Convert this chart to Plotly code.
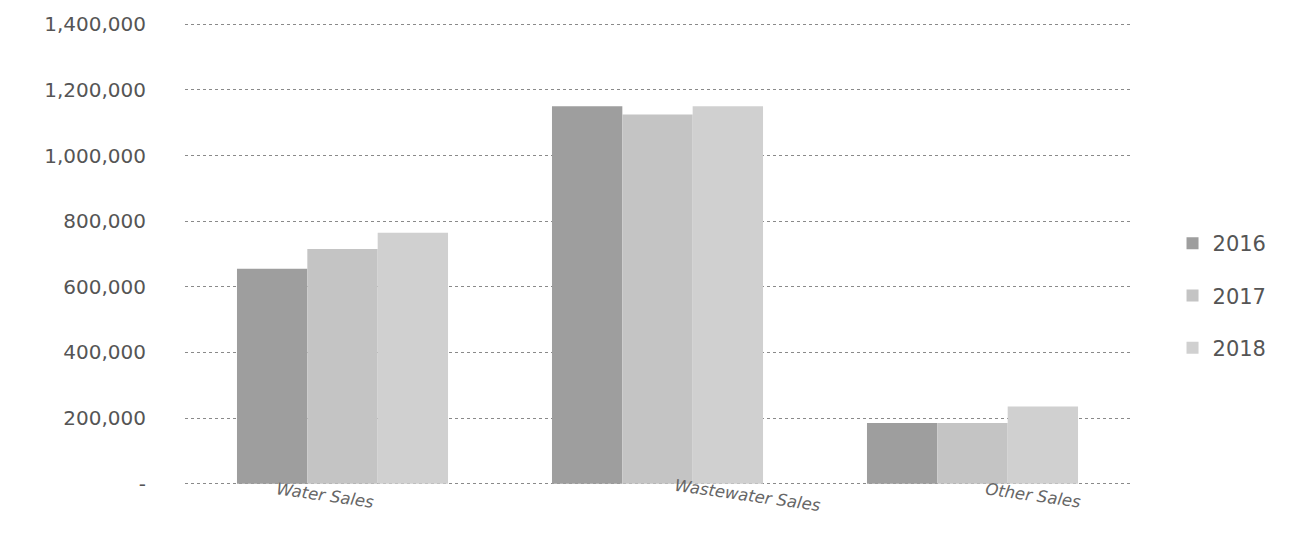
import plotly.graph_objects as go

# Sales by category and year
categories = ["Water Sales", "Wastewater Sales", "Other Sales"]
years = ["2016", "2017", "2018"]
sales_2016 = [655000, 1150000, 185000]
sales_2017 = [715000, 1125000, 185000]
sales_2018 = [765000, 1150000, 235000]
series_values = [sales_2016, sales_2017, sales_2018]

y_tick_values = [0, 200000, 400000, 600000, 800000, 1000000, 1200000, 1400000]
y_tick_labels = ["-", "200,000", "400,000", "600,000", "800,000",
                 "1,000,000", "1,200,000", "1,400,000"]

bar_colors = ["#9e9e9e", "#c4c4c4", "#d0d0d0"]
label_shifts = [-18, 90, 60]
font_family = "'DejaVu Sans', sans-serif"

fig = go.Figure()
for year, values, color in zip(years, series_values, bar_colors):
    fig.add_trace(go.Bar(
        name=year,
        legendgroup=year,
        x=categories,
        y=values,
        marker=dict(color=color, line=dict(width=0)),
    ))

# Italic, slightly tilted category labels under the groups
for cat, shift in zip(categories, label_shifts):
    fig.add_annotation(
        x=cat, y=0, xref="x", yref="y",
        yshift=-12, xshift=shift,
        text=f"<i>{cat}</i>", showarrow=False,
        textangle=8,
        font=dict(family=font_family, size=16.5, color="#666666"),
    )

fig.update_layout(
    width=1292, height=550,
    margin=dict(l=185, r=162, t=17, b=65),
    paper_bgcolor="white", plot_bgcolor="white",
    barmode="group", bargap=0.33, bargroupgap=0,
    font=dict(family=font_family, color="#555555"),
    legend=dict(
        x=1.045, y=0.41, xanchor="left", yanchor="middle",
        font=dict(size=21, color="#555555"),
        itemsizing="constant", tracegroupgap=22,
        bgcolor="rgba(0,0,0,0)",
    ),
    showlegend=True,
)

fig.update_xaxes(
    showticklabels=False, showgrid=False, zeroline=False,
    showline=False, ticks="",
)
fig.update_yaxes(
    range=[-4000, 1404000],
    tickvals=y_tick_values, ticktext=y_tick_labels,
    tickfont=dict(size=20, color="#555555"),
    ticklabelstandoff=38,
    showgrid=True, gridcolor="#8a8a8a", gridwidth=1, griddash="dot",
    zeroline=False, showline=False, ticks="",
)

fig.write_html("out.html")
